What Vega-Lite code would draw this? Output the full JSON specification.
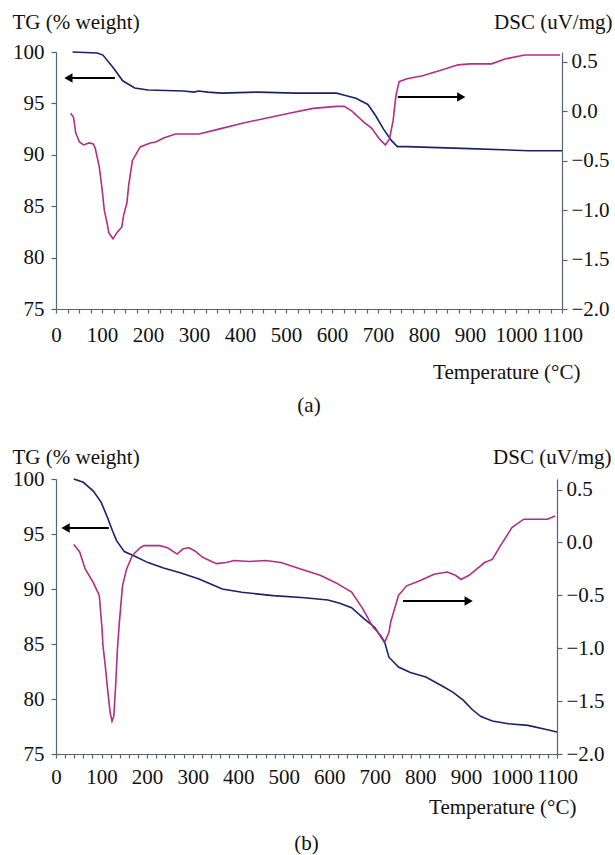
{
  "$schema": "https://vega.github.io/schema/vega-lite/v6.json",
  "padding": {"left": 12, "top": 11, "right": 0, "bottom": 0},
  "background": "white",
  "spacing": 30,
  "config": {
    "view": {"stroke": null},
    "font": "Liberation Serif",
    "axis": {
      "labelFont": "Liberation Serif", "titleFont": "Liberation Serif",
      "labelFontSize": 21, "titleFontSize": 21, "titleFontWeight": "normal",
      "labelColor": "#111111", "titleColor": "#111111",
      "domainColor": "#5a6275", "tickColor": "#5a6275", "domainWidth": 1.2, "tickWidth": 1.2,
      "grid": false
    },
    "title": {"font": "Liberation Serif", "fontSize": 21, "fontWeight": "normal", "color": "#111111"}
  },
  "datasets": {
    "a_tg": [{"temp":36,"tg":100},{"temp":90,"tg":99.9},{"temp":102,"tg":99.7},{"temp":124,"tg":98.5},{"temp":145,"tg":97.2},{"temp":171,"tg":96.5},{"temp":200,"tg":96.3},{"temp":277,"tg":96.2},{"temp":300,"tg":96.1},{"temp":310,"tg":96.2},{"temp":330,"tg":96.1},{"temp":360,"tg":96.0},{"temp":439,"tg":96.1},{"temp":520,"tg":96.0},{"temp":610,"tg":96.0},{"temp":627,"tg":95.8},{"temp":652,"tg":95.5},{"temp":678,"tg":94.9},{"temp":695,"tg":93.8},{"temp":712,"tg":92.5},{"temp":729,"tg":91.4},{"temp":742,"tg":90.8},{"temp":763,"tg":90.8},{"temp":831,"tg":90.7},{"temp":899,"tg":90.6},{"temp":1027,"tg":90.4},{"temp":1100,"tg":90.4}],
    "a_dsc": [{"temp":32,"dsc":-0.02},{"temp":38,"dsc":-0.06},{"temp":43,"dsc":-0.22},{"temp":51,"dsc":-0.31},{"temp":60,"dsc":-0.34},{"temp":72,"dsc":-0.32},{"temp":81,"dsc":-0.33},{"temp":85,"dsc":-0.37},{"temp":94,"dsc":-0.56},{"temp":100,"dsc":-0.78},{"temp":105,"dsc":-1.0},{"temp":111,"dsc":-1.13},{"temp":115,"dsc":-1.23},{"temp":124,"dsc":-1.29},{"temp":132,"dsc":-1.23},{"temp":143,"dsc":-1.17},{"temp":147,"dsc":-1.05},{"temp":154,"dsc":-0.93},{"temp":158,"dsc":-0.75},{"temp":166,"dsc":-0.5},{"temp":183,"dsc":-0.36},{"temp":205,"dsc":-0.32},{"temp":217,"dsc":-0.31},{"temp":234,"dsc":-0.27},{"temp":260,"dsc":-0.23},{"temp":311,"dsc":-0.23},{"temp":354,"dsc":-0.18},{"temp":405,"dsc":-0.12},{"temp":456,"dsc":-0.07},{"temp":507,"dsc":-0.02},{"temp":559,"dsc":0.03},{"temp":610,"dsc":0.05},{"temp":627,"dsc":0.05},{"temp":644,"dsc":0.0},{"temp":669,"dsc":-0.11},{"temp":686,"dsc":-0.17},{"temp":703,"dsc":-0.28},{"temp":716,"dsc":-0.34},{"temp":725,"dsc":-0.28},{"temp":733,"dsc":-0.09},{"temp":739,"dsc":0.16},{"temp":746,"dsc":0.30},{"temp":763,"dsc":0.33},{"temp":797,"dsc":0.36},{"temp":840,"dsc":0.42},{"temp":874,"dsc":0.47},{"temp":900,"dsc":0.48},{"temp":947,"dsc":0.48},{"temp":976,"dsc":0.53},{"temp":1019,"dsc":0.57},{"temp":1096,"dsc":0.57}],
    "a_arrows": [{"arrow":1,"temp":128,"tg":97.47},{"arrow":1,"temp":22,"tg":97.47},{"arrow":2,"temp":743,"tg":95.62},{"arrow":2,"temp":884,"tg":95.62}],
    "a_heads": [{"temp":27,"tg":97.47,"dir":"left"},{"temp":881,"tg":95.62,"dir":"right"}],
    "b_tg": [{"temp":39,"tg":100},{"temp":60,"tg":99.7},{"temp":82,"tg":98.9},{"temp":99,"tg":97.9},{"temp":112,"tg":96.6},{"temp":124,"tg":95.3},{"temp":133,"tg":94.4},{"temp":150,"tg":93.4},{"temp":172,"tg":93.0},{"temp":202,"tg":92.4},{"temp":236,"tg":91.9},{"temp":271,"tg":91.5},{"temp":314,"tg":90.9},{"temp":365,"tg":90.0},{"temp":408,"tg":89.7},{"temp":477,"tg":89.4},{"temp":546,"tg":89.2},{"temp":597,"tg":89.0},{"temp":623,"tg":88.7},{"temp":649,"tg":88.3},{"temp":676,"tg":87.3},{"temp":700,"tg":86.5},{"temp":722,"tg":85.1},{"temp":731,"tg":83.8},{"temp":752,"tg":82.9},{"temp":778,"tg":82.4},{"temp":812,"tg":82.0},{"temp":847,"tg":81.2},{"temp":872,"tg":80.6},{"temp":894,"tg":79.9},{"temp":915,"tg":79.0},{"temp":933,"tg":78.4},{"temp":958,"tg":78.0},{"temp":993,"tg":77.75},{"temp":1036,"tg":77.6},{"temp":1079,"tg":77.2},{"temp":1100,"tg":77.0}],
    "b_dsc": [{"temp":39,"dsc":-0.02},{"temp":52,"dsc":-0.09},{"temp":64,"dsc":-0.25},{"temp":82,"dsc":-0.38},{"temp":95,"dsc":-0.5},{"temp":101,"dsc":-0.81},{"temp":103,"dsc":-0.97},{"temp":109,"dsc":-1.2},{"temp":114,"dsc":-1.42},{"temp":119,"dsc":-1.61},{"temp":123,"dsc":-1.69},{"temp":127,"dsc":-1.64},{"temp":131,"dsc":-1.35},{"temp":135,"dsc":-1.0},{"temp":139,"dsc":-0.76},{"temp":146,"dsc":-0.41},{"temp":155,"dsc":-0.25},{"temp":168,"dsc":-0.12},{"temp":185,"dsc":-0.05},{"temp":193,"dsc":-0.03},{"temp":228,"dsc":-0.03},{"temp":245,"dsc":-0.05},{"temp":266,"dsc":-0.11},{"temp":279,"dsc":-0.06},{"temp":292,"dsc":-0.05},{"temp":305,"dsc":-0.08},{"temp":322,"dsc":-0.14},{"temp":352,"dsc":-0.2},{"temp":374,"dsc":-0.19},{"temp":391,"dsc":-0.17},{"temp":425,"dsc":-0.18},{"temp":460,"dsc":-0.17},{"temp":494,"dsc":-0.19},{"temp":537,"dsc":-0.25},{"temp":580,"dsc":-0.31},{"temp":614,"dsc":-0.38},{"temp":649,"dsc":-0.47},{"temp":674,"dsc":-0.63},{"temp":696,"dsc":-0.8},{"temp":713,"dsc":-0.88},{"temp":722,"dsc":-0.94},{"temp":731,"dsc":-0.85},{"temp":735,"dsc":-0.75},{"temp":752,"dsc":-0.5},{"temp":770,"dsc":-0.41},{"temp":800,"dsc":-0.36},{"temp":830,"dsc":-0.3},{"temp":859,"dsc":-0.28},{"temp":877,"dsc":-0.31},{"temp":889,"dsc":-0.35},{"temp":907,"dsc":-0.31},{"temp":941,"dsc":-0.19},{"temp":958,"dsc":-0.16},{"temp":976,"dsc":-0.03},{"temp":1001,"dsc":0.14},{"temp":1027,"dsc":0.22},{"temp":1079,"dsc":0.22},{"temp":1096,"dsc":0.25}],
    "b_arrows": [{"arrow":1,"temp":116,"tg":95.55},{"arrow":1,"temp":17,"tg":95.55},{"arrow":2,"temp":762,"tg":88.9},{"arrow":2,"temp":908,"tg":88.9}],
    "b_heads": [{"temp":21,"tg":95.55,"dir":"left"},{"temp":906,"tg":88.9,"dir":"right"}]
  },
  "vconcat": [
    {
      "width": 506, "height": 257,
      "title": {"text": "(a)", "orient": "bottom", "anchor": "middle", "offset": 13},
      "encoding": {
        "x": {"field": "temp", "type": "quantitative",
          "scale": {"domain": [0, 1100], "nice": false},
          "axis": {"values": [0,25,50,75,100,125,150,175,200,225,250,275,300,325,350,375,400,425,450,475,500,525,550,575,600,625,650,675,700,725,750,775,800,825,850,875,900,925,950,975,1000,1025,1050,1075,1100],
            "format": "d", "labelExpr": "datum.value % 100 === 0 ? datum.label : ''",
            "labelFlush": false, "labelOverlap": false, "tickSize": 4, "labelPadding": 11,
            "title": "Temperature (°C)", "titleAnchor": "end", "titleAlign": "right", "titleBaseline": "middle", "titleX": 524, "titleY": 63}}
      },
      "layer": [
        {
          "encoding": {
            "y": {"field": "tg", "type": "quantitative",
              "scale": {"domain": [75, 100], "nice": false, "zero": false},
              "axis": {"values": [75,80,85,90,95,100], "tickSize": 5, "labelPadding": 7,
                "title": "TG (% weight)", "titleAngle": 0, "titleAlign": "left", "titleBaseline": "middle", "titleX": -44, "titleY": -30}}
          },
          "layer": [
            {"data": {"name": "a_tg"}, "mark": {"type": "line", "color": "#1c2266", "strokeWidth": 1.6}},
            {"data": {"name": "a_arrows"}, "mark": {"type": "line", "color": "#000000", "strokeWidth": 2}, "encoding": {"detail": {"field": "arrow", "type": "nominal"}}},
            {"data": {"name": "a_heads"}, "mark": {"type": "point", "filled": true, "color": "#000000", "opacity": 1, "size": 90},
              "encoding": {"shape": {"field": "dir", "type": "nominal", "scale": {"domain": ["left", "right"], "range": ["triangle-left", "triangle-right"]}, "legend": null}}}
          ]
        },
        {
          "data": {"name": "a_dsc"},
          "mark": {"type": "line", "color": "#b02f86", "strokeWidth": 1.6},
          "encoding": {
            "y": {"field": "dsc", "type": "quantitative",
              "scale": {"domain": [-2, 0.6], "nice": false, "zero": false},
              "axis": {"orient": "right", "values": [-2,-1.5,-1,-0.5,0,0.5], "format": ".1f", "tickSize": 5, "labelPadding": 4,
                "title": "DSC (uV/mg)", "titleAngle": 0, "titleAlign": "right", "titleBaseline": "middle", "titleX": 50, "titleY": -30}}
          }
        }
      ],
      "resolve": {"scale": {"y": "independent"}}
    },
    {
      "width": 501, "height": 275,
      "title": {"text": "(b)", "orient": "bottom", "anchor": "middle", "offset": 16},
      "encoding": {
        "x": {"field": "temp", "type": "quantitative",
          "scale": {"domain": [0, 1100], "nice": false},
          "axis": {"values": [0,20,40,60,80,100,120,140,160,180,200,220,240,260,280,300,320,340,360,380,400,420,440,460,480,500,520,540,560,580,600,620,640,660,680,700,720,740,760,780,800,820,840,860,880,900,920,940,960,980,1000,1020,1040,1060,1080,1100],
            "format": "d", "labelExpr": "datum.value % 100 === 0 ? datum.label : ''",
            "labelFlush": false, "labelOverlap": false, "tickSize": 4, "labelPadding": 8,
            "title": "Temperature (°C)", "titleAnchor": "end", "titleAlign": "right", "titleBaseline": "middle", "titleX": 520, "titleY": 53}}
      },
      "layer": [
        {
          "encoding": {
            "y": {"field": "tg", "type": "quantitative",
              "scale": {"domain": [75, 100], "nice": false, "zero": false},
              "axis": {"values": [75,80,85,90,95,100], "tickSize": 5, "labelPadding": 7,
                "title": "TG (% weight)", "titleAngle": 0, "titleAlign": "left", "titleBaseline": "middle", "titleX": -44, "titleY": -22}}
          },
          "layer": [
            {"data": {"name": "b_tg"}, "mark": {"type": "line", "color": "#1c2266", "strokeWidth": 1.6}},
            {"data": {"name": "b_arrows"}, "mark": {"type": "line", "color": "#000000", "strokeWidth": 2}, "encoding": {"detail": {"field": "arrow", "type": "nominal"}}},
            {"data": {"name": "b_heads"}, "mark": {"type": "point", "filled": true, "color": "#000000", "opacity": 1, "size": 90},
              "encoding": {"shape": {"field": "dir", "type": "nominal", "scale": {"domain": ["left", "right"], "range": ["triangle-left", "triangle-right"]}, "legend": null}}}
          ]
        },
        {
          "data": {"name": "b_dsc"},
          "mark": {"type": "line", "color": "#b02f86", "strokeWidth": 1.6},
          "encoding": {
            "y": {"field": "dsc", "type": "quantitative",
              "scale": {"domain": [-2, 0.6], "nice": false, "zero": false},
              "axis": {"orient": "right", "values": [-2,-1.5,-1,-0.5,0,0.5], "format": ".1f", "tickSize": 5, "labelPadding": 4,
                "title": "DSC (uV/mg)", "titleAngle": 0, "titleAlign": "right", "titleBaseline": "middle", "titleX": 54, "titleY": -22}}
          }
        }
      ],
      "resolve": {"scale": {"y": "independent"}}
    }
  ]
}
